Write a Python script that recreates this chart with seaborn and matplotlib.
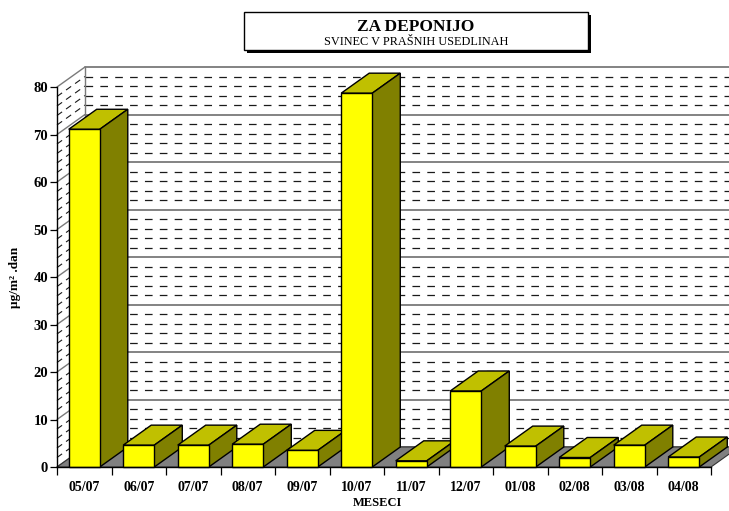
import numpy as np
import pandas as pd
import matplotlib
matplotlib.use("Agg")
import matplotlib.pyplot as plt
from matplotlib.patches import Polygon, Rectangle
from matplotlib.lines import Line2D
from matplotlib.ticker import FixedLocator
import seaborn as sns

# Monthly lead deposition in dust fall (µg/m².dan)
months = ["05/07", "06/07", "07/07", "08/07", "09/07", "10/07",
          "11/07", "12/07", "01/08", "02/08", "03/08", "04/08"]
lead = [71.1, 4.6, 4.6, 4.8, 3.5, 78.7, 1.3, 16.0, 4.4, 2.0, 4.6, 2.1]
y_ticks = [0, 10, 20, 30, 40, 50, 60, 70, 80]

title = "ZA DEPONIJO"
subtitle = "SVINEC V PRAŠNIH USEDLINAH"
x_label = "MESECI"
y_label = "µg/m² .dan"

sns.set_theme(style="white")
plt.rcParams["font.family"] = ["Liberation Serif", "DejaVu Serif"]
plt.rcParams["text.color"] = "black"
plt.rcParams["axes.labelcolor"] = "black"
plt.rcParams["xtick.color"] = "black"
plt.rcParams["ytick.color"] = "black"
plt.rcParams["lines.scale_dashes"] = False

W, H = 729, 511
fig = plt.figure(figsize=(W / 100, H / 100), dpi=100, facecolor="white")
ax = fig.add_axes([57 / W, 44 / H, 654 / W, 380 / H])
ax.set_facecolor("none")

df = pd.DataFrame({"mesec": months, "vrednost": lead})
sns.barplot(data=df, x="mesec", y="vrednost", order=months, color="#FFFF00",
            saturation=1, width=0.57, edgecolor="black", linewidth=1.0,
            errorbar=None, ax=ax)

n = len(months)
ymax = y_ticks[-1]
# oblique depth offset of the 3-D box (in data units)
DX = 28 / 54.5
DY = 20 / 4.75
xl, xr = -0.5, n - 0.5

# back wall
ax.add_patch(Polygon([(xl + DX, DY), (xr + DX, DY), (xr + DX, ymax + DY), (xl + DX, ymax + DY)],
                     closed=True, fc="white", ec="none", zorder=0.2, clip_on=False))
# left wall
ax.add_patch(Polygon([(xl, 0), (xl + DX, DY), (xl + DX, ymax + DY), (xl, ymax)],
                     closed=True, fc="white", ec="none", zorder=0.2, clip_on=False))

for v in range(0, ymax + 1, 2):
    if v % 10 == 0:
        ax.add_line(Line2D([xl + DX, xr + DX], [v + DY, v + DY], color="#7a7a7a",
                           lw=1.3, zorder=0.4, clip_on=False))
        ax.add_line(Line2D([xl, xl + DX], [v, v + DY], color="#7a7a7a",
                           lw=1.0, zorder=0.4, clip_on=False))
    else:
        ax.add_line(Line2D([xl + DX, xr + DX], [v + DY, v + DY], color="#1a1a1a",
                           lw=0.9, dashes=(5.5, 5.2), zorder=0.4, clip_on=False))
        ax.add_line(Line2D([xl, xl + DX], [v, v + DY], color="#1a1a1a",
                           lw=0.8, dashes=(4.5, 3.5), zorder=0.4, clip_on=False))
# wall frame
ax.add_line(Line2D([xl + DX, xl + DX], [DY, ymax + DY], color="#7a7a7a", lw=1.0,
                   zorder=0.45, clip_on=False))

# floor
ax.add_patch(Polygon([(xl, 0), (xr, 0), (xr + DX, DY), (xl + DX, DY)],
                     closed=True, fc="#808080", ec="#333333", lw=0.8, zorder=0.6, clip_on=False))

# 3-D faces of each bar, built from the seaborn bar rectangles
for i, bar in enumerate(ax.patches[:n]):
    x0 = bar.get_x()
    x1 = x0 + bar.get_width()
    h = bar.get_height()
    base = 2 + 2 * i
    top = Polygon([(x0, h), (x1, h), (x1 + DX, h + DY), (x0 + DX, h + DY)], closed=True,
                  fc="#C0C000", ec="black", lw=1.0, zorder=base, clip_on=False)
    side = Polygon([(x1, 0), (x1 + DX, DY), (x1 + DX, h + DY), (x1, h)], closed=True,
                   fc="#808000", ec="black", lw=1.0, zorder=base, clip_on=False)
    ax.add_patch(top)
    ax.add_patch(side)
    bar.set_zorder(base + 1)
    bar.set_clip_on(False)

ax.set_xlim(xl, xr)
ax.set_ylim(0, ymax)

# axes, ticks and labels
for s in ["top", "right"]:
    ax.spines[s].set_visible(False)
for s in ["left", "bottom"]:
    ax.spines[s].set_color("black")
    ax.spines[s].set_linewidth(1.0)
    ax.spines[s].set_zorder(100)

ax.set_yticks(y_ticks)
ax.set_yticklabels([str(t) for t in y_ticks], fontweight="bold", fontsize=10.5)
ax.tick_params(axis="y", which="major", left=True, direction="out", length=5,
               width=0.9, pad=1.5, colors="black")

ax.set_xticks(range(n))
ax.set_xticklabels(months, fontweight="bold", fontsize=10)
ax.tick_params(axis="x", which="major", bottom=True, length=0, pad=10, colors="black")
ax.xaxis.set_minor_locator(FixedLocator(np.arange(xl, xr + 0.01, 1.0)))
ax.tick_params(axis="x", which="minor", bottom=True, direction="out", length=6,
               width=0.9, color="black")

ax.set_xlabel(x_label, fontweight="bold", fontsize=9)
ax.xaxis.set_label_coords((377 - 57) / 654, -(503 - 467) / 380)
ax.xaxis.label.set_va("center")
ax.set_ylabel(y_label, fontweight="bold", fontsize=9.5)
ax.yaxis.set_label_coords(-(57 - 15) / 654, (467 - 277) / 380)
ax.yaxis.label.set_va("center")

# title box with drop shadow
bx0, bx1, by0, by1 = 244, 588, 12, 50
fig.add_artist(Rectangle(((bx0 + 3) / W, 1 - (by1 + 3) / H), (bx1 - bx0) / W, (by1 - by0) / H,
                         transform=fig.transFigure, fc="black", ec="none", zorder=50))
fig.add_artist(Rectangle((bx0 / W, 1 - by1 / H), (bx1 - bx0) / W, (by1 - by0) / H,
                         transform=fig.transFigure, fc="white", ec="black", lw=1.0, zorder=51))
fig.text((bx0 + bx1) / 2 / W, 1 - 27 / H, title, ha="center", va="center",
         fontsize=12.5, fontweight="bold", zorder=52)
fig.text((bx0 + bx1) / 2 / W, 1 - 42 / H, subtitle, ha="center", va="center",
         fontsize=8.8, zorder=52)

fig.savefig("out.png", dpi=100, facecolor="white")
